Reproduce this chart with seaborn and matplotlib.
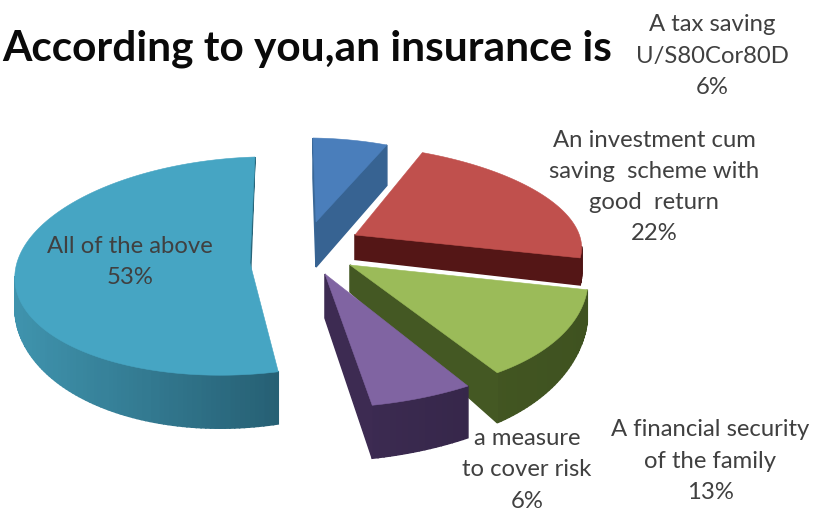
import numpy as np
import matplotlib
matplotlib.use("Agg")
import matplotlib.pyplot as plt
from matplotlib.path import Path
import seaborn as sns

sns.set_theme(style="white")
plt.rcParams["font.family"] = ["Lato", "DejaVu Sans"]

# Shares of each answer, in pie order starting at twelve o'clock
answers = ["A tax saving\nU/S80Cor80D", "An investment cum\nsaving  scheme with\ngood  return",
           "A financial security\nof the family", "a measure\nto cover risk", "All of the above"]
shares = [6, 22, 13, 6, 53]
title = "According to you,an insurance is"

# Colours of the top faces and of the shaded sides
top_colours = ["#4A7EBB", "#C0504D", "#9BBB59", "#8064A2", "#46A5C3"]
side_light = ["#3A6898", "#5A1818", "#465A24", "#3E2C54", "#3F93AD"]
side_dark = ["#355F8C", "#4E1414", "#3F5220", "#36274A", "#265F73"]

# Projection of every exploded slice on the canvas (centre, radii, shear, depth far/near)
centre_x = [316, 355, 350, 325, 245]
centre_y = [222, 235, 265, 274, 266]
radius_x = [200, 226, 237, 273, 230]
radius_y = [84, 91, 127, 134, 109]
shear_x = [-3, -17, -24, 4, 10]
shear_y = [3, 6, 1, -2, -7]
depth_far = [40, 15, 27, 44, 0]
depth_near = [45, 27, 50, 53, 53]
apex_shift_x = [0, 0, 0, 0, 5]
apex_shift_y = [0, 0, 0, 0, -3]

# Label anchors (centre of the text block)
label_x = [712, 654, 710, 527, 130]
label_y = [56, 187, 461, 470, 262]

fig = plt.figure(figsize=(8.25, 5.12), dpi=100)
ax = fig.add_axes([0, 0, 1, 1])
ax.set_xlim(0, 825)
ax.set_ylim(512, 0)
ax.axis("off")

edges = np.cumsum([0] + shares) / sum(shares) * 2 * np.pi

slices = []
for i in range(len(shares)):
    theta = np.linspace(edges[i], edges[i + 1], max(12, int(shares[i] * 3)))
    x = centre_x[i] + radius_x[i] * np.sin(theta) + shear_x[i] * np.cos(theta)
    y = centre_y[i] - radius_y[i] * np.cos(theta) + shear_y[i] * np.sin(theta)
    outline = np.column_stack([np.r_[centre_x[i] + apex_shift_x[i], x],
                               np.r_[centre_y[i] + apex_shift_y[i], y]])
    slices.append(outline)

# Slices are painted from the back of the pie to the front
for i in np.argsort([s[:, 1].max() for s in slices]):
    outline = slices[i]
    path = Path(outline)
    y_min, y_max = outline[:, 1].min(), outline[:, 1].max()

    def depth(py):
        return depth_far[i] + (depth_near[i] - depth_far[i]) * (py - y_min) / (y_max - y_min)

    ramp = sns.blend_palette([side_light[i], side_dark[i]], 64)
    x_min, x_max = outline[:, 0].min(), outline[:, 0].max()
    closed = np.vstack([outline, outline[0]])
    for p, q in zip(closed[:-1], closed[1:]):
        mid = (p + q) / 2
        # Only edges with nothing of the top face directly below them show a wall
        if path.contains_point((mid[0], mid[1] + 1.5)):
            continue
        shade = ramp[int(63 * (mid[0] - x_min) / (x_max - x_min))]
        ax.fill([p[0], q[0], q[0], p[0]],
                [p[1], q[1], q[1] + depth(q[1]), p[1] + depth(p[1])],
                color=shade, lw=1.1, zorder=2 + 0.01 * y_max)
    ax.fill(outline[:, 0], outline[:, 1], color=top_colours[i], lw=0.4,
            zorder=2.5 + 0.01 * y_max)

for name, share, lx, ly in zip(answers, shares, label_x, label_y):
    ax.text(lx, ly, f"{name}\n{share}%", ha="center", va="center", multialignment="center",
            fontsize=17.2, color="#404040", linespacing=1.6, zorder=10)

ax.text(612, 49, title, ha="right", va="center", fontsize=30.5, fontweight="bold",
        color="#0A0A0A", zorder=10)

fig.savefig("out.png", dpi=100)
